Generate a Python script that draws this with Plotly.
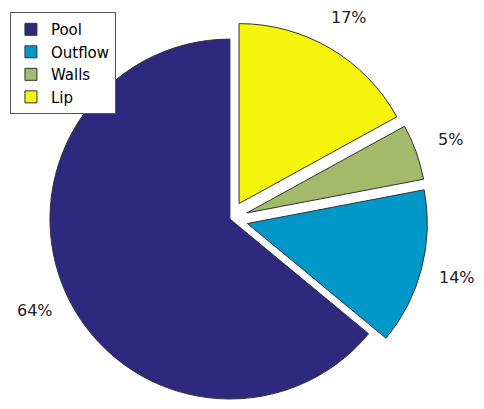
import math
import plotly.graph_objects as go

labels = ["Pool", "Outflow", "Walls", "Lip"]
values = [64, 14, 5, 17]
pulls = [0, 0.1, 0.1, 0.1]
colors = ["#2e287e", "#0098c9", "#a3ba6b", "#f6f60c"]

W, H = 484, 409
dom_x = [0.0, 0.917]
dom_y = [0.0, 0.968]

total = sum(values)
# Plotly's counterclockwise mode ends the first slice at the rotation angle;
# rotate so the first slice starts at 12 o'clock and runs counterclockwise.
start_rotation = 360 * (1 - values[0] / total)

fig = go.Figure(
    go.Pie(
        labels=labels,
        values=values,
        pull=pulls,
        sort=False,
        direction="counterclockwise",
        rotation=start_rotation,
        marker=dict(colors=colors, line=dict(color="#333333", width=1)),
        textinfo="none",
        domain=dict(x=dom_x, y=dom_y),
        automargin=False,
        hoverinfo="label+percent",
    )
)

# percentage labels placed outside each slice, along its mid-angle (pie geometry)
box_w = W * (dom_x[1] - dom_x[0])
box_h = H * (dom_y[1] - dom_y[0])
r = min(box_w, box_h) / 2 / (1 + max(pulls))
cx = W * (dom_x[0] + dom_x[1]) / 2
cy = H * (dom_y[0] + dom_y[1]) / 2
cum = 0
for v, p in zip(values, pulls):
    mid = math.radians(90 + 360 * (cum + v / 2) / total)
    d = r * (p + 1.2)
    fig.add_annotation(
        x=(cx + d * math.cos(mid)) / W,
        y=(cy + d * math.sin(mid)) / H,
        xref="paper", yref="paper",
        text=f"{round(100 * v / total)}%",
        showarrow=False, xanchor="center", yanchor="middle",
        font=dict(family="DejaVu Sans", size=16, color="#222222"),
    )
    cum += v

fig.update_layout(
    width=W,
    height=H,
    margin=dict(l=0, r=0, t=0, b=0),
    paper_bgcolor="white",
    plot_bgcolor="white",
    showlegend=True,
    legend=dict(
        x=0.004, y=0.99, xanchor="left", yanchor="top",
        bordercolor="#555555", borderwidth=1, bgcolor="white",
        font=dict(family="DejaVu Sans", size=15, color="black"),
        traceorder="normal",
    ),
)

fig.write_html("out.html")
